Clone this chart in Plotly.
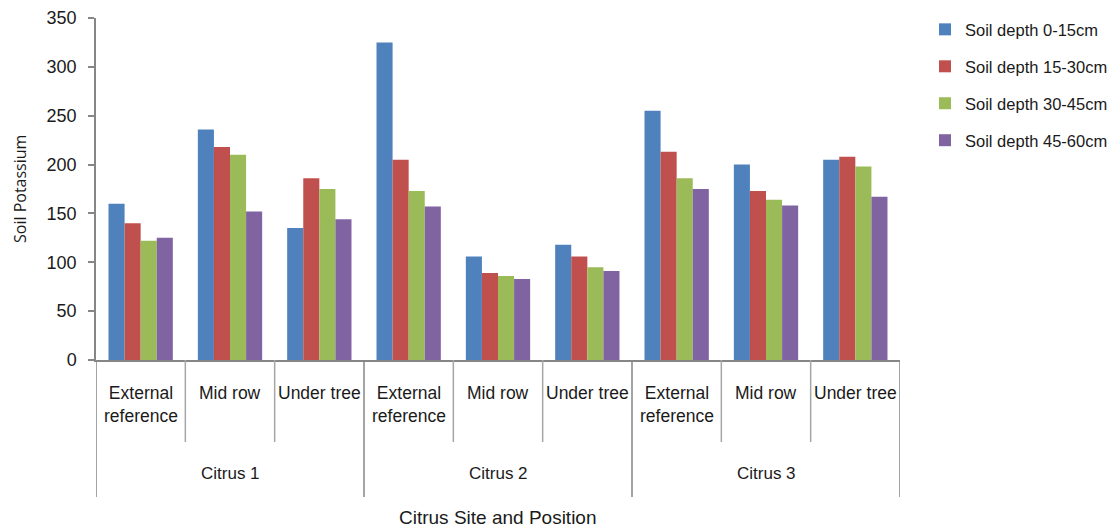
import plotly.graph_objects as go

# Sampling sites and positions within each site
sites = ["Citrus 1", "Citrus 2", "Citrus 3"]
positions = ["External<br>reference", "Mid row", "Under tree"]

# Soil potassium by depth, ordered site by site, position by position
depth_labels = ["Soil depth 0-15cm", "Soil depth 15-30cm",
                "Soil depth 30-45cm", "Soil depth 45-60cm"]
depth_0_15 = [160, 236, 135, 325, 106, 118, 255, 200, 205]
depth_15_30 = [140, 218, 186, 205, 89, 106, 213, 173, 208]
depth_30_45 = [122, 210, 175, 173, 86, 95, 186, 164, 198]
depth_45_60 = [125, 152, 144, 157, 83, 91, 175, 158, 167]

colors = ["#4F81BD", "#C0504D", "#9BBB59", "#8064A2"]
series = [depth_0_15, depth_15_30, depth_30_45, depth_45_60]

FONT = "Liberation Sans, Arial, sans-serif"
TXT = "#1a1a1a"
AX = "#868686"

n_pos = len(positions)
n_cat = len(sites) * n_pos
x_idx = list(range(n_cat))

fig = go.Figure()
for name, vals, col in zip(depth_labels, series, colors):
    fig.add_trace(go.Bar(
        x=x_idx, y=vals, name=name, legendgroup=name,
        marker=dict(color=col, line=dict(width=0)),
    ))

# Two-level category labels with separators below the axis
plot_h = 342.0
def py(px_below):
    return -px_below / plot_h

shapes = []
annotations = []
for s, site in enumerate(sites):
    for p, pos in enumerate(positions):
        i = s * n_pos + p
        annotations.append(dict(
            x=i, y=py(21), xref="x", yref="paper", text=pos,
            showarrow=False, xanchor="center", yanchor="top",
            font=dict(family=FONT, size=17.5, color=TXT),
        ))
        if p < n_pos - 1:
            shapes.append(dict(
                type="line", xref="x", yref="paper",
                x0=i + 0.5, x1=i + 0.5, y0=0, y1=py(82),
                line=dict(color="#a6a6a6", width=1.5),
            ))
    annotations.append(dict(
        x=s * n_pos + (n_pos - 1) / 2, y=py(113), xref="x", yref="paper",
        text=site, showarrow=False, xanchor="center", yanchor="middle",
        font=dict(family=FONT, size=17, color=TXT),
    ))
for b in range(len(sites) + 1):
    xb = b * n_pos - 0.5
    shapes.append(dict(
        type="line", xref="x", yref="paper",
        x0=xb, x1=xb, y0=0, y1=py(137),
        line=dict(color=AX, width=1.5),
    ))

annotations.append(dict(
    x=0.5, y=py(157), xref="paper", yref="paper",
    text="Citrus Site and Position", showarrow=False,
    xanchor="center", yanchor="middle",
    font=dict(family=FONT, size=19, color=TXT),
))
annotations.append(dict(
    x=(20 - 96) / 804, y=0.5, xref="paper", yref="paper",
    text="Soil Potassium", showarrow=False, textangle=-90,
    xanchor="center", yanchor="middle",
    font=dict(family="Open Sans, sans-serif", size=16, color=TXT),
))

fig.update_layout(
    width=1117, height=527,
    margin=dict(l=96, r=217, t=18, b=167, autoexpand=False),
    paper_bgcolor="white", plot_bgcolor="white",
    barmode="group", bargap=0.28, bargroupgap=0,
    font=dict(family=FONT, size=18, color=TXT),
    showlegend=True,
    legend=dict(
        xref="container", yref="container",
        x=925 / 1117, y=0.977, xanchor="left", yanchor="top",
        font=dict(family=FONT, size=16.5, color=TXT),
        tracegroupgap=12.5, itemwidth=30, bgcolor="rgba(0,0,0,0)",
    ),
    shapes=shapes,
    annotations=annotations,
)
fig.update_xaxes(
    range=[-0.5, n_cat - 0.5], showticklabels=False, ticks="",
    showline=True, linecolor=AX, linewidth=1.5, showgrid=False,
    zeroline=False, fixedrange=True,
)
fig.update_yaxes(
    range=[0, 350], dtick=50, tick0=0, ticks="outside", ticklen=6,
    tickcolor=AX, tickwidth=1.5, showline=True, linecolor=AX, linewidth=1.5,
    showgrid=False, zeroline=False, ticklabelstandoff=8,
    tickfont=dict(family=FONT, size=18, color=TXT),
)

fig.write_html("out.html")
